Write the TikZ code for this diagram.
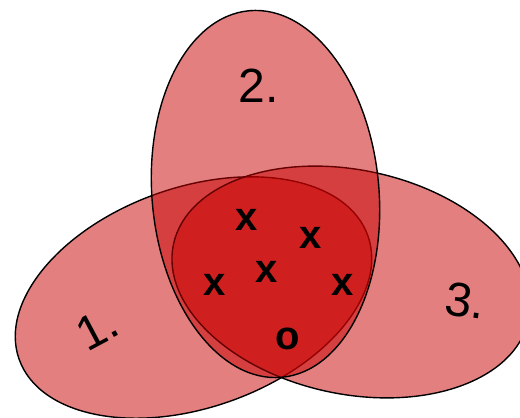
\documentclass[tikz,border=0pt]{standalone}
\usepackage{fontspec}
\setmainfont{Liberation Sans}
\definecolor{setred}{RGB}{200,0,0}
\begin{document}
\begin{tikzpicture}[x=1pt,y=1pt,
  setshape/.style={fill=setred,fill opacity=0.5,draw=black,draw opacity=1,line width=1.4pt},
  setlabel/.style={font=\fontsize{48}{48}\selectfont,inner sep=0pt,anchor=base},
  elem/.style={font=\fontsize{40}{40}\selectfont\bfseries,inner sep=0pt}]
\useasboundingbox (0,0) rectangle (520,418);
\begin{scope}
\clip (0,0) rectangle (520,418);
% set 1
\coordinate (c1) at (193.5,120.5);
\draw[setshape,rotate around={19.5:(c1)}] (c1) ellipse [x radius=185,y radius=110];
% set 3
\coordinate (c3) at (351,136);
\draw[setshape,rotate around={-12:(c3)}] (c3) ellipse [x radius=181.5,y radius=112];
% set 2
\coordinate (c2) at (265.5,224);
\draw[setshape,rotate around={5:(c2)}] (c2) ellipse [x radius=113.5,y radius=184];
\end{scope}
% labels
\node[setlabel] (l2) at (259,315) {2.};
\node[setlabel,rotate=28] (l1) at (105,75) {1.};
\node[setlabel,rotate=-8] (l3) at (463,101) {3.};
% elements
\node[elem] (e1) at (246.5,198) {x};
\node[elem] (e2) at (310.5,180.5) {x};
\node[elem] (e3) at (267,146) {x};
\node[elem] (e4) at (214.5,133) {x};
\node[elem] (e5) at (342.5,133) {x};
\node[elem] (e6) at (288,79) {o};
\end{tikzpicture}
\end{document}
